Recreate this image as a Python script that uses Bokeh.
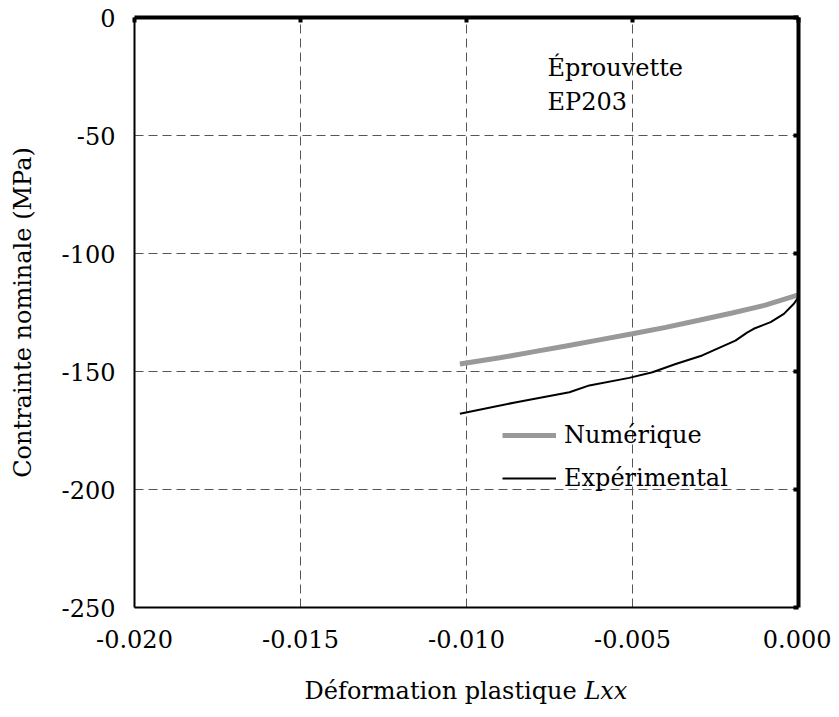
from bokeh.plotting import figure
from bokeh.layouts import column
from bokeh.models import (Range1d, LinearAxis, FixedTicker, Legend, LegendItem, Label, Div,
                          CustomLabelingPolicy)
from bokeh.embed import file_html
from bokeh.resources import INLINE

# ---- data ----
num_x = [-0.0102, -0.0090, -0.0080, -0.0070, -0.0060, -0.0050, -0.0040, -0.0030, -0.0020, -0.0010, 0.0]
num_y = [-146.8, -144.2, -141.7, -139.2, -136.6, -134.0, -131.3, -128.3, -125.2, -121.9, -117.5]

exp_x = [-0.0102, -0.0085, -0.0069, -0.0063, -0.0051, -0.0044, -0.0037, -0.0029, -0.0019,
         -0.00155, -0.00135, -0.00084, -0.00044, -0.00014, 0.0]
exp_y = [-167.9, -163.0, -158.8, -155.9, -152.7, -150.3, -146.8, -143.2, -136.9,
         -133.5, -131.9, -129.1, -125.6, -121.3, -118.5]

x_ticks = [-0.020, -0.015, -0.010, -0.005, 0.0]
x_tick_labels = ["-0.020", "-0.015", "-0.010", "-0.005", "0.000"]
y_ticks = [-250, -200, -150, -100, -50, 0]
y_tick_labels = ["-250", "-200", "-150", "-100", "-50", "0"]

series_names = ["Numérique", "Expérimental"]
x_title_main = "Déformation plastique"
x_title_ital = "Lxx"
y_title = "Contrainte nominale (MPa)"
note_lines = ["Éprouvette", "EP203"]

FONT = "DejaVu Serif"
FS = "24px"

p = figure(frame_width=664, frame_height=590,
           x_range=Range1d(-0.020, 0.0), y_range=Range1d(-250, 0),
           output_backend="svg", toolbar_location=None,
           min_border_left=134, min_border_right=33, min_border_top=17, min_border_bottom=55,
           background_fill_color="white", border_fill_color="white",
           outline_line_color=None)

# grid
for g in (p.xgrid, p.ygrid):
    g.grid_line_color = "#555555"
    g.grid_line_dash = "9 5"
    g.grid_line_width = 1
p.xgrid.ticker = FixedTicker(ticks=x_ticks)
p.ygrid.ticker = FixedTicker(ticks=y_ticks)

# bottom / left axes
xa = p.xaxis[0]
ya = p.yaxis[0]
xa.ticker = FixedTicker(ticks=x_ticks)
ya.ticker = FixedTicker(ticks=y_ticks)
xa.major_label_overrides = {t: l for t, l in zip(x_ticks, x_tick_labels)}
ya.major_label_overrides = {t: l for t, l in zip(y_ticks, y_tick_labels)}
for a in (xa, ya):
    a.axis_line_width = 2
    a.axis_line_color = "black"
    a.major_tick_in = 0
    a.major_tick_out = 0
    a.minor_tick_line_color = None
    a.major_label_text_font = FONT
    a.major_label_text_font_size = FS
    a.major_label_text_color = "black"
    a.axis_label_text_font = FONT
    a.axis_label_text_font_size = FS
    a.axis_label_text_font_style = "normal"
    a.axis_label_text_color = "black"
xa.major_label_standoff = 22
ya.major_label_standoff = 19
ya.axis_label = y_title
ya.axis_label_standoff = 22

# top / right borders with inward ticks (labels suppressed)
hide = CustomLabelingPolicy(code="""
    try { indices.clear() } catch (e) {
        for (let i = 0; i < indices.size; i++) { try { indices.unset(i) } catch (e2) {} }
    }
    return indices
""")
top = LinearAxis(ticker=FixedTicker(ticks=x_ticks), major_label_policy=hide)
right = LinearAxis(ticker=FixedTicker(ticks=y_ticks), major_label_policy=hide)
for a in (top, right):
    a.axis_line_width = 4
    a.axis_line_color = "black"
    a.major_tick_in = 5
    a.major_tick_out = 0
    a.major_tick_line_width = 4
    a.major_tick_line_color = "black"
    a.minor_tick_line_color = None
    a.major_label_text_font_size = "2px"
    a.major_label_standoff = 0
p.add_layout(top, "above")
p.add_layout(right, "right")

# curves
r_num = p.line(num_x, num_y, line_color="#999999", line_width=5)
r_exp = p.line(exp_x, exp_y, line_color="black", line_width=2)

legend = Legend(items=[LegendItem(label=series_names[0], renderers=[r_num]),
                       LegendItem(label=series_names[1], renderers=[r_exp])],
                location=(368, 109), orientation="vertical",
                border_line_color=None, background_fill_alpha=0,
                padding=0, margin=0, spacing=3,
                glyph_width=54, glyph_height=40, label_standoff=8,
                label_text_font=FONT, label_text_font_size=FS, label_text_color="black")
p.add_layout(legend, "center")

# annotation text
p.add_layout(Label(x=-0.00756, y=-21.6, text=note_lines[0], text_font=FONT,
                   text_font_size=FS, text_color="black", text_baseline="alphabetic"))
p.add_layout(Label(x=-0.00756, y=-35.6, text=note_lines[1], text_font=FONT,
                   text_font_size=FS, text_color="black", text_baseline="alphabetic"))

# x axis title (with italic part) as HTML below the figure
xtitle = Div(text=f"{x_title_main} <i>{x_title_ital}</i>", width=664, height=30,
             margin=(14, 0, 0, 134),
             styles={"font-family": FONT, "font-size": FS, "color": "black",
                     "text-align": "center", "line-height": "30px", "width": "664px"})

layout = column(p, xtitle, spacing=0)
open("out.html", "w").write(file_html(layout, INLINE))
